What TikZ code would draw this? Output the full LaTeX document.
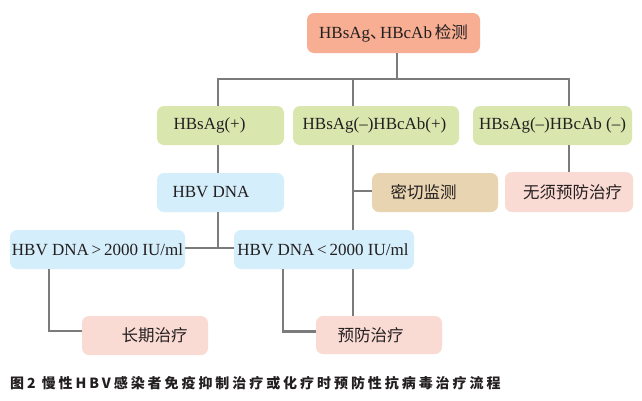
\documentclass[tikz,border=0pt]{standalone}
\usepackage{fontspec}
\setmainfont{Liberation Serif}
\newfontfamily\cjk{Noto Sans CJK SC}
\newcommand\zh[1]{{\cjk\fontsize{16.5}{19}\selectfont #1}}
\definecolor{topc}{HTML}{F7AE93}
\definecolor{grn}{HTML}{D9E7AF}
\definecolor{blu}{HTML}{D5EEFB}
\definecolor{tanc}{HTML}{E8D4B0}
\definecolor{pnk}{HTML}{FADBD4}
\definecolor{lnc}{HTML}{7B7B7B}
\definecolor{txc}{HTML}{231F20}
\begin{document}
\begin{tikzpicture}[x=1pt,y=-1pt,
  font=\fontsize{17}{19}\selectfont, text=txc,
  box/.style={rectangle, rounded corners=7pt, inner sep=0pt, draw=none},
  conn/.style={draw=lnc, line width=2.2pt}]
\useasboundingbox[fill=white] (0,0) rectangle (642,400);
% boxes
\node[box, fill=topc, minimum width=173pt, minimum height=40pt] (top) at (393.5,33) {HBsAg\zh{\makebox[0.6em][l]{、}}HBcAb\,\zh{检测}};
\node[box, fill=grn, minimum width=127pt, minimum height=39pt,
  label={[xshift=-11pt]center:{HBsAg(+)}}] (g1) at (220.5,125.5) {};
\node[box, fill=grn, minimum width=166pt, minimum height=39pt,
  label={[xshift=-1.5pt]center:{HBsAg(\textendash)HBcAb(+)}}] (g2) at (376,125.5) {};
\node[box, fill=grn, minimum width=159pt, minimum height=39pt] (g3) at (552.5,125.5) {HBsAg(\textendash)HBcAb (\textendash)};
\node[box, fill=blu, minimum width=127pt, minimum height=39pt,
  label={[xshift=-9.5pt]center:{HBV DNA}}] (b1) at (220.5,192.5) {};
\node[box, fill=tanc, minimum width=126pt, minimum height=39pt,
  label={[xshift=-11.5pt]center:{\zh{密切监测}}}] (m) at (435,192.5) {};
\node[box, fill=pnk, minimum width=128pt, minimum height=40pt,
  label={[xshift=3.5pt]center:{\zh{无须预防治疗}}}] (n) at (569,192) {};
\node[box, fill=blu, minimum width=175pt, minimum height=39pt] (b2) at (97.5,249.5) {HBV DNA\,>\,2000 IU/ml};
\node[box, fill=blu, minimum width=180pt, minimum height=39pt,
  label={[xshift=-1pt]center:{HBV DNA\,<\,2000 IU/ml}}] (b3) at (324,249.5) {};
\node[box, fill=pnk, minimum width=126pt, minimum height=39pt,
  label={[xshift=9.5pt]center:{\zh{长期治疗}}}] (r1) at (145,335.5) {};
\node[box, fill=pnk, minimum width=126pt, minimum height=38pt,
  label={[xshift=-8.5pt]center:{\zh{预防治疗}}}] (r2) at (379,335) {};
% connectors
\coordinate (bus) at (0,79);
\draw[conn] ([xshift=3.5pt]top.south) -- ([xshift=3.5pt]top.south |- bus);
\draw[conn] ([xshift=-2.5pt]g1.north) -- ([xshift=-2.5pt]g1.north |- bus) -- ([xshift=16.5pt]g3.north |- bus) -- ([xshift=16.5pt]g3.north);
\draw[conn] ([xshift=-23pt]g2.north) -- ([xshift=-23pt]g2.north |- bus);
\draw[conn] ([xshift=-2.5pt]g1.south) -- ([xshift=-2.5pt]b1.north);
\draw[conn] ([xshift=-2.5pt]b1.south) -- ([xshift=-2.5pt,yshift=1.5pt]b1.south |- b2.east);
\draw[conn] ([yshift=1.5pt]b2.east) -- ([yshift=1.5pt]b3.west);
\draw[conn] ([xshift=-23pt]g2.south) -- ([xshift=-23pt]g2.south |- b3.north);
\draw[conn] ([xshift=-23pt,yshift=1.5pt]g2.south |- m.west) -- ([yshift=1.5pt]m.west);
\draw[conn] ([xshift=16.5pt]g3.south) -- (n.north);
\draw[conn] ([xshift=-48.5pt]b2.south) |- ([yshift=4.5pt]r1.west);
\draw[conn] ([xshift=-41pt]b3.south) |- ([yshift=3.5pt]r2.west);
\draw[conn] ([xshift=29pt]b3.south) -- ([xshift=-26pt]r2.north);
% caption
\node[anchor=west, inner sep=0pt, font=\cjk\bfseries\fontsize{14}{16}\selectfont\addfontfeature{LetterSpace=21}] (cap) at (10,383.5) {图2 慢性HBV感染者免疫抑制治疗或化疗时预防性抗病毒治疗流程};
\end{tikzpicture}
\end{document}
